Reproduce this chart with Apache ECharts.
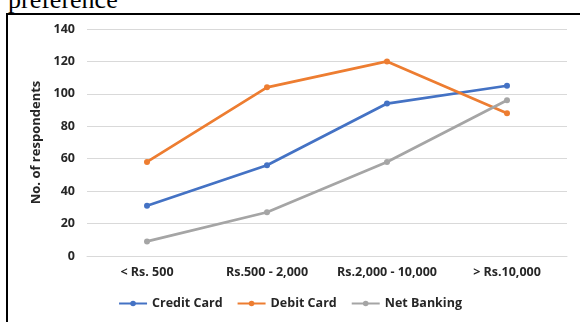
<!DOCTYPE html>
<html>
<head>
<meta charset="utf-8">
<script src="https://cdn.jsdelivr.net/npm/echarts@6/dist/echarts.min.js"></script>
<style>
  html, body { margin: 0; padding: 0; background: #fff; overflow: hidden; }
  #cap { position: absolute; left: 8px; top: -15px; font-family: "Liberation Serif", serif; font-size: 26px; color: #000; }
  #frame { position: absolute; left: 6px; top: 13px; width: 590px; height: 330px; border: 2.5px solid #000; box-sizing: border-box; }
  #main { position: absolute; left: 0; top: 0; width: 580px; height: 322px; }
</style>
</head>
<body>
<div id="cap">preference</div>
<div id="frame"></div>
<div id="main"></div>
<script>
var categories = ['< Rs. 500', 'Rs.500 - 2,000', 'Rs.2,000 - 10,000', '> Rs.10,000'];
var creditCard = [31, 56, 94, 105];
var debitCard = [58, 104, 120, 88];
var netBanking = [9, 27, 58, 96];
var seriesNames = ['Credit Card', 'Debit Card', 'Net Banking'];
var colors = ['#4472C4', '#ED7D31', '#A5A5A5'];

var font = '"Open Sans", sans-serif';
var txt = '#262626';
var myChart = echarts.init(document.getElementById('main'));

function mkSeries(name, data, color) {
    return {
        name: name, type: 'line', data: data,
        symbol: 'circle', symbolSize: 6,
        lineStyle: { width: 2.75, color: color },
        itemStyle: { color: color }
    };
}

var option = {
    animation: false,
    color: colors,
    grid: { left: 87, right: 13, top: 29, bottom: 66 },
    legend: {
        bottom: 7, left: 'center', itemWidth: 28, itemHeight: 7, itemGap: 14,
        data: seriesNames,
        textStyle: { fontFamily: font, fontWeight: 'bold', fontSize: 12.5, color: txt }
    },
    xAxis: {
        type: 'category', data: categories, boundaryGap: true,
        axisLine: { lineStyle: { color: '#D9D9D9' } },
        axisTick: { show: false },
        axisLabel: { fontFamily: font, fontWeight: 'bold', fontSize: 12.5, color: txt, margin: 10, interval: 0 }
    },
    yAxis: {
        type: 'value', min: 0, max: 140, interval: 20,
        name: 'No. of respondents', nameLocation: 'middle', nameGap: 43, nameRotate: 90,
        nameTextStyle: { fontFamily: font, fontWeight: 'bold', fontSize: 13, color: txt },
        axisLine: { show: false }, axisTick: { show: false },
        splitLine: { lineStyle: { color: '#D9D9D9' } },
        axisLabel: { fontFamily: font, fontWeight: 'bold', fontSize: 12.5, color: txt, margin: 12 }
    },
    series: [
        mkSeries(seriesNames[0], creditCard, colors[0]),
        mkSeries(seriesNames[1], debitCard, colors[1]),
        mkSeries(seriesNames[2], netBanking, colors[2])
    ]
};
myChart.setOption(option);
</script>
</body>
</html>
